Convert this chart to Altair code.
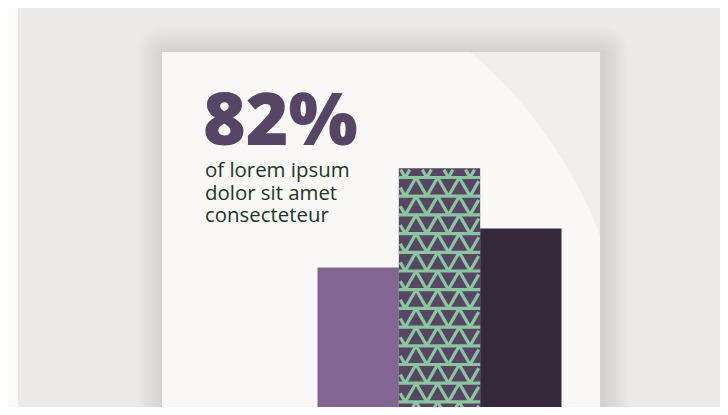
import altair as alt
import pandas as pd

# ---- data ----
categories = ["A", "B", "C"]
values = [49, 82, 62]
bar_colors = ["#81668f", "#564663", "#37293b"]
headline = ["82%"]
caption_lines = ["of lorem ipsum", "dolor sit amet", "consecteteur"]

# ---- layout constants (plot area = the card) ----
W, H = 438, 355
PAD = {"left": 154, "top": 44, "right": 120, "bottom": 0}
BAND = [155.5, 399.5]
YR = [363, 62]

bars_df = pd.DataFrame({"cat": categories, "value": values})

# ---- triangle pattern inside the middle bar ----
bw = (BAND[1] - BAND[0]) / len(categories)
px0 = BAND[0] + bw * 1
px1 = BAND[0] + bw * 2
top = YR[0] - values[1] * (YR[0] - YR[1]) / 100.0
row_h, tri_w, first_line, valley_off = 18.7, 21.6, 9.3, 6.4
ymax = H + 25
SW = 3.2  # stroke width of the pattern


def clip(xa, ya, xb, yb, lo_x, hi_x, lo_y):
    t0, t1 = 0.0, 1.0
    dx, dy = xb - xa, yb - ya
    for p, q in ((-dx, xa - lo_x), (dx, hi_x - xa), (-dy, ya - lo_y), (dy, ymax - ya)):
        if p == 0:
            if q < 0:
                return None
        else:
            r = q / p
            if p < 0:
                t0 = max(t0, r)
            else:
                t1 = min(t1, r)
    if t0 >= t1:
        return None
    return (xa + t0 * dx, ya + t0 * dy, xa + t1 * dx, ya + t1 * dy)


segs = []
j = 0
while True:
    yb = top + first_line + row_h * j      # base line of this row
    yt = yb - row_h                         # apex level (line above)
    if yt > ymax:
        break
    segs.append((px0, yb, px1, yb))
    for k in range(-3, 8):
        xv = px0 + valley_off + tri_w * k
        for a, b in ((xv, xv + tri_w / 2), (xv + tri_w, xv + tri_w / 2)):
            # keep the thick stroke inside the bar's sides and top
            c = clip(a, yb, b, yt, px0 + SW * 0.45, px1 - SW * 0.45, top + SW * 0.45)
            if c:
                segs.append(c)
    j += 1

pat_df = pd.DataFrame(segs, columns=["x", "y", "x2", "y2"])

one = pd.DataFrame({"k": [0]})

# ---- layers ----
panel = alt.Chart(one).mark_rect(color="#ebeae8").encode(
    x=alt.value(-144), x2=alt.value(W + PAD["right"]),
    y=alt.value(-45), y2=alt.value(H + 10))

shadows = []
for i in range(12):
    e = (i + 1) * 2.2
    shadows.append(
        alt.Chart(one).mark_rect(color="#000000", opacity=0.009, cornerRadius=e).encode(
            x=alt.value(-e + 1), x2=alt.value(W + e + 3),
            y=alt.value(-e + 1), y2=alt.value(H + 40)))

card = alt.Chart(one).mark_rect(color="#f0efed").encode(
    x=alt.value(0), x2=alt.value(W), y=alt.value(0), y2=alt.value(H + 10))

circle = alt.Chart(one).mark_point(
    shape="circle", filled=True, opacity=1, color="#f9f8f7", strokeWidth=0,
    size=894 * 894, clip=True).encode(x=alt.value(20), y=alt.value(342))

bars = alt.Chart(bars_df).mark_bar(clip=True).encode(
    x=alt.X("cat:N", scale=alt.Scale(domain=categories, range=BAND, paddingInner=0, paddingOuter=0), axis=None),
    y=alt.Y("value:Q", scale=alt.Scale(domain=[0, 100], range=YR, nice=False, zero=True), axis=None),
    color=alt.Color("cat:N", scale=alt.Scale(domain=categories, range=bar_colors), legend=None),
)

pattern = alt.Chart(pat_df).mark_rule(color="#8bc6a0", strokeWidth=SW, strokeCap="butt", clip=True).encode(
    x=alt.X("x:Q", scale=alt.Scale(domain=[0, W], range=[0, W], nice=False, zero=False), axis=None),
    x2="x2:Q",
    y=alt.Y("y:Q", scale=alt.Scale(domain=[0, H], range=[0, H], nice=False, zero=False), axis=None),
    y2="y2:Q",
)

head = alt.Chart(pd.DataFrame({"t": headline})).mark_text(
    align="left", baseline="alphabetic", font="Open Sans", fontSize=73, fontWeight=800,
    color="#574566").encode(text="t:N", x=alt.value(41), y=alt.value(93))

caps = []
for i, line in enumerate(caption_lines):
    caps.append(alt.Chart(pd.DataFrame({"t": [line]})).mark_text(
        align="left", baseline="alphabetic", font="Open Sans", fontSize=20.4,
        color="#213527").encode(text="t:N", x=alt.value(43), y=alt.value(125.3 + 22.3 * i)))

chart = alt.layer(panel, *shadows, card, circle, bars, pattern, head, *caps).resolve_scale(
    x="independent", y="independent"
).properties(
    width=W, height=H, padding=PAD, autosize="none", background="#fafaf9"
).configure_view(stroke=None)

chart.save("out.html", embed_options={"renderer": "svg", "actions": False})
